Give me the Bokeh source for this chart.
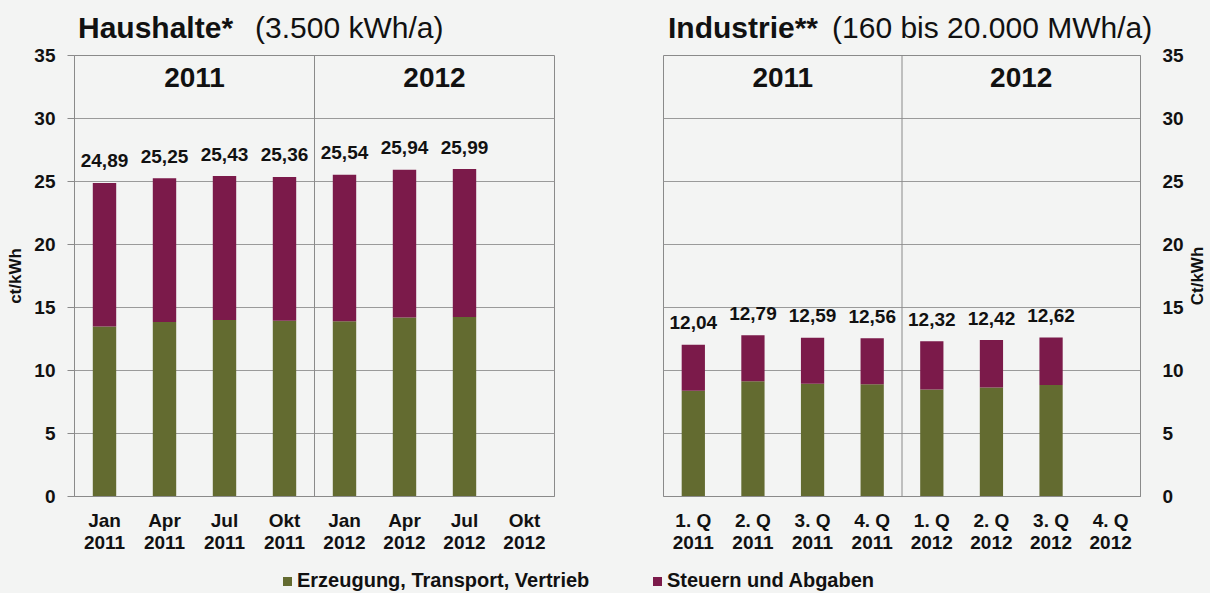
from bokeh.plotting import figure
from bokeh.models import (ColumnDataSource, FactorRange, Range1d, SingleIntervalTicker,
                          Span, Label, Div, GlobalInlineStyleSheet)
from bokeh.layouts import row, column
from bokeh.embed import file_html
from bokeh.resources import INLINE
from bokeh.core.properties import value

# ---------------- data ----------------
haushalte_cats = ["Jan\n2011", "Apr\n2011", "Jul\n2011", "Okt\n2011",
                  "Jan\n2012", "Apr\n2012", "Jul\n2012", "Okt\n2012"]
haushalte_total = [24.89, 25.25, 25.43, 25.36, 25.54, 25.94, 25.99]
haushalte_erzeugung = [13.5, 13.85, 14.0, 13.95, 13.9, 14.2, 14.25]

industrie_cats = ["1. Q\n2011", "2. Q\n2011", "3. Q\n2011", "4. Q\n2011",
                  "1. Q\n2012", "2. Q\n2012", "3. Q\n2012", "4. Q\n2012"]
industrie_total = [12.04, 12.79, 12.59, 12.56, 12.32, 12.42, 12.62]
industrie_erzeugung = [8.4, 9.15, 8.95, 8.9, 8.5, 8.65, 8.85]

years = ["2011", "2012"]
series_names = ["Erzeugung, Transport, Vertrieb", "Steuern und Abgaben"]
titles_bold = ["Haushalte*", "Industrie**"]
titles_regular = ["(3.500 kWh/a)", "(160 bis 20.000 MWh/a)"]
axis_titles = ["ct/kWh", "Ct/kWh"]
y_ticks_interval = 5
y_max = 35

# ---------------- style ----------------
FONT = "Liberation Sans"
GREEN = "#636b30"
PURPLE = "#7b1a4a"
BG = "#f3f4f3"
GRID = "#9a9a9a"
FRAME = "#8a8a8a"
TXT = "#111111"

TITLE_H = 44
LEGEND_H = 33
FIG_H = 593 - TITLE_H - LEGEND_H
TOP = 11
FRAME_H = 441
RLABEL_W = 23


def make_panel(cats, totals, erz, side, width, mb_left, mb_right, axis_text, axis_standoff):
    p = figure(x_range=FactorRange(*cats), y_range=Range1d(0, y_max),
               width=width, height=FIG_H, output_backend="svg", toolbar_location=None,
               y_axis_location=side,
               min_border_left=mb_left, min_border_right=mb_right,
               min_border_top=TOP, min_border_bottom=FIG_H - TOP - FRAME_H)
    p.background_fill_color = BG
    p.border_fill_color = BG
    p.outline_line_color = FRAME
    p.outline_line_width = 1

    n = len(totals)
    src = ColumnDataSource(dict(
        cat=cats[:n],
        erz=erz,
        steuer=[t - e for t, e in zip(totals, erz)],
        total=totals,
        label=[f"{t:.2f}".replace(".", ",") for t in totals],
    ))
    p.vbar_stack(["erz", "steuer"], x="cat", width=0.39, color=[GREEN, PURPLE],
                 line_color=None, source=src)
    p.text(x="cat", y="total", text="label", source=src, y_offset=-22,
           text_align="center", text_baseline="middle", text_font=value(FONT),
           text_font_style="bold", text_font_size="19px", text_color=TXT)

    # grid
    p.xgrid.grid_line_color = None
    p.ygrid.grid_line_color = GRID
    p.ygrid.grid_line_width = 1

    # y axis
    yax = p.yaxis[0]
    yax.ticker = SingleIntervalTicker(interval=y_ticks_interval)
    yax.axis_line_color = FRAME
    yax.major_tick_line_color = FRAME
    yax.minor_tick_line_color = None
    yax.major_tick_in = 0
    yax.major_label_text_font = FONT
    yax.major_label_text_font_style = "bold"
    yax.major_label_text_font_size = "19px"
    yax.major_label_text_color = TXT
    if side == "left":
        yax.major_tick_out = 7
        yax.major_label_standoff = 12
        yax.axis_label = axis_text
        yax.axis_label_text_font = FONT
        yax.axis_label_text_font_style = "bold"
        yax.axis_label_text_font_size = "17px"
        yax.axis_label_text_color = TXT
        yax.axis_label_standoff = axis_standoff
    else:
        yax.major_tick_out = 0
        yax.major_label_standoff = 18

    # x axis
    xax = p.xaxis[0]
    xax.axis_line_color = FRAME
    xax.major_tick_line_color = None
    xax.minor_tick_line_color = None
    xax.major_label_text_font = FONT
    xax.major_label_text_font_style = "bold"
    xax.major_label_text_font_size = "19px"
    xax.major_label_text_color = TXT
    xax.major_label_text_line_height = 1.05
    xax.major_label_standoff = 7

    # divider between years
    half = len(cats) / 2
    p.add_layout(Span(location=half, dimension="height", line_color=FRAME, line_width=1))

    # year headers
    for i, yr in enumerate(years):
        p.add_layout(Label(x=half / 2 + i * half, y=33.25, text=yr, text_align="center",
                           text_baseline="middle", text_font=FONT, text_font_style="bold",
                           text_font_size="28px", text_color=TXT))
    return p


def title_div(i, width, pad_left, gap):
    html = (f'<div style="font-family:\'{FONT}\';font-size:30px;line-height:30px;'
            f'color:{TXT};padding:13px 0 0 {pad_left}px;white-space:nowrap;">'
            f'<span style="font-weight:bold">{titles_bold[i]}</span>'
            f'<span style="margin-left:{gap}px">{titles_regular[i]}</span></div>')
    return Div(text=html, width=width, height=TITLE_H, margin=0,
               styles={"background-color": BG})


def legend_div():
    items = ""
    for name, color, left in zip(series_names, [GREEN, PURPLE], [283, 653]):
        items += (f'<div style="position:absolute;left:{left}px;top:10px;height:20px;'
                  f'line-height:20px;white-space:nowrap;">'
                  f'<span style="display:inline-block;width:9px;height:9px;'
                  f'background:{color};margin-right:5px;vertical-align:1px;"></span>'
                  f'<span>{name}</span></div>')
    html = (f'<div style="position:relative;width:1210px;height:{LEGEND_H}px;'
            f'font-family:\'{FONT}\';font-size:20px;font-weight:bold;color:{TXT};">'
            f'{items}</div>')
    return Div(text=html, width=1210, height=LEGEND_H, margin=0,
               styles={"background-color": BG})


def right_axis_label_div():
    center_y = TOP + FRAME_H / 2
    html = (f'<div style="position:relative;width:{RLABEL_W}px;height:{FIG_H}px;">'
            f'<div style="position:absolute;left:10px;top:{center_y}px;'
            f'transform:translate(-50%,-50%) rotate(-90deg);white-space:nowrap;'
            f'font-family:\'{FONT}\';font-size:17px;font-weight:bold;color:{TXT};'
            f'line-height:17px;">{axis_titles[1]}</div></div>')
    return Div(text=html, width=RLABEL_W, height=FIG_H, margin=0,
               styles={"background-color": BG})


left = make_panel(haushalte_cats, haushalte_total, haushalte_erzeugung, "left",
                  width=650, mb_left=74, mb_right=96, axis_text=axis_titles[0],
                  axis_standoff=6)

right = make_panel(industrie_cats, industrie_total, industrie_erzeugung, "right",
                   width=560 - RLABEL_W, mb_left=13, mb_right=70 - RLABEL_W,
                   axis_text=axis_titles[1], axis_standoff=6)

layout = column(
    row(title_div(0, 650, 78, 22), title_div(1, 560, 18, 14)),
    row(left, right, right_axis_label_div()),
    legend_div(),
    stylesheets=[GlobalInlineStyleSheet(css="html, body { background-color: #f3f4f3; }")],
)

open("out.html", "w").write(file_html(layout, INLINE))
